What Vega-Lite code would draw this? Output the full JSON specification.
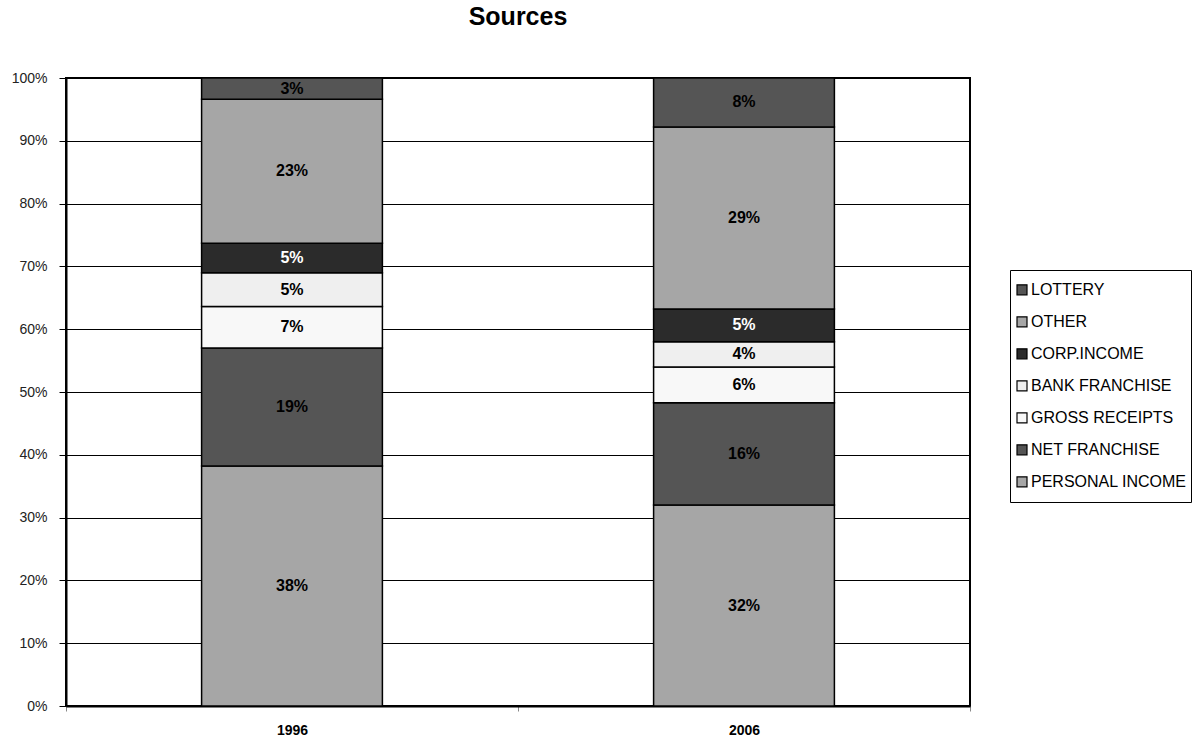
{
  "$schema": "https://vega.github.io/schema/vega-lite/v6.json",
  "width": 904,
  "height": 628,
  "autosize": {"type": "none"},
  "padding": {"left": 66, "top": 78, "right": 223, "bottom": 35},
  "background": "white",
  "title": {"text": "Sources", "fontSize": 25, "font": "Liberation Sans", "fontWeight": "bold", "color": "#000", "anchor": "middle", "offset": 41},
  "config": {
    "font": "Liberation Sans",
    "view": {"stroke": "#000", "strokeWidth": 2}
  },
  "data": {"values": [
    {"year": "1996", "source": "PERSONAL INCOME", "rank": 1, "value": 38.2},
    {"year": "1996", "source": "NET FRANCHISE", "rank": 2, "value": 18.8},
    {"year": "1996", "source": "GROSS RECEIPTS", "rank": 3, "value": 6.6},
    {"year": "1996", "source": "BANK FRANCHISE", "rank": 4, "value": 5.4},
    {"year": "1996", "source": "CORP.INCOME", "rank": 5, "value": 4.7},
    {"year": "1996", "source": "OTHER", "rank": 6, "value": 22.9},
    {"year": "1996", "source": "LOTTERY", "rank": 7, "value": 3.4},
    {"year": "2006", "source": "PERSONAL INCOME", "rank": 1, "value": 32.0},
    {"year": "2006", "source": "NET FRANCHISE", "rank": 2, "value": 16.3},
    {"year": "2006", "source": "GROSS RECEIPTS", "rank": 3, "value": 5.7},
    {"year": "2006", "source": "BANK FRANCHISE", "rank": 4, "value": 4.0},
    {"year": "2006", "source": "CORP.INCOME", "rank": 5, "value": 5.2},
    {"year": "2006", "source": "OTHER", "rank": 6, "value": 29.0},
    {"year": "2006", "source": "LOTTERY", "rank": 7, "value": 7.8}
  ]},
  "transform": [
    {"stack": "value", "groupby": ["year"], "sort": [{"field": "rank", "order": "ascending"}], "as": ["v0", "v1"]},
    {"calculate": "(datum.v0 + datum.v1) / 2", "as": "vmid"},
    {"calculate": "format(datum.value / 100, '.0%')", "as": "label"}
  ],
  "encoding": {
    "x": {
      "field": "year", "type": "nominal",
      "scale": {"paddingInner": 0, "paddingOuter": 0},
      "axis": {"title": null, "labelAngle": 0, "labelFontWeight": "bold", "labelFontSize": 14, "labelColor": "#000", "labelPadding": 12, "tickBand": "extent", "tickSize": 5, "tickColor": "#888", "domainColor": "#000", "domainWidth": 2, "grid": false}
    },
    "y": {"field": "v0", "type": "quantitative", "scale": {"domain": [0, 100], "nice": false},
      "axis": {"title": null, "values": [0,10,20,30,40,50,60,70,80,90,100], "labelExpr": "datum.value + '%'", "labelFontSize": 14, "labelColor": "#222", "labelPadding": 12, "tickSize": 7, "tickColor": "#000", "domainColor": "#000", "domainWidth": 2, "gridColor": "#000", "gridWidth": 1, "gridOpacity": 1, "labelOverlap": false}}
  },
  "layer": [
    {
      "mark": {"type": "bar", "stroke": "#000", "strokeWidth": 1.5, "width": {"band": 0.4}},
      "encoding": {
        "y2": {"field": "v1"},
        "color": {
          "field": "source", "type": "nominal",
          "scale": {
            "domain": ["LOTTERY", "OTHER", "CORP.INCOME", "BANK FRANCHISE", "GROSS RECEIPTS", "NET FRANCHISE", "PERSONAL INCOME"],
            "range": ["#555555", "#a6a6a6", "#2b2b2b", "#efefef", "#f8f8f8", "#555555", "#a6a6a6"]
          },
          "legend": {
            "title": null, "orient": "none", "legendX": 944, "legendY": 192,
            "symbolType": "square", "symbolSize": 100, "symbolStrokeColor": "#000", "symbolStrokeWidth": 1.2, "symbolOpacity": 1,
            "labelFontSize": 16, "labelColor": "#000", "labelOffset": 1, "rowPadding": 0, "clipHeight": 31.6,
            "strokeColor": "#000", "padding": 4, "offset": 0, "labelLimit": 300
          }
        }
      }
    },
    {
      "mark": {"type": "text", "fontSize": 16, "fontWeight": "bold", "baseline": "middle", "align": "center"},
      "encoding": {
        "y": {"field": "vmid", "type": "quantitative"},
        "text": {"field": "label"},
        "color": {"condition": {"test": "datum.source === 'CORP.INCOME'", "value": "#ffffff"}, "value": "#000000"}
      }
    }
  ]
}
